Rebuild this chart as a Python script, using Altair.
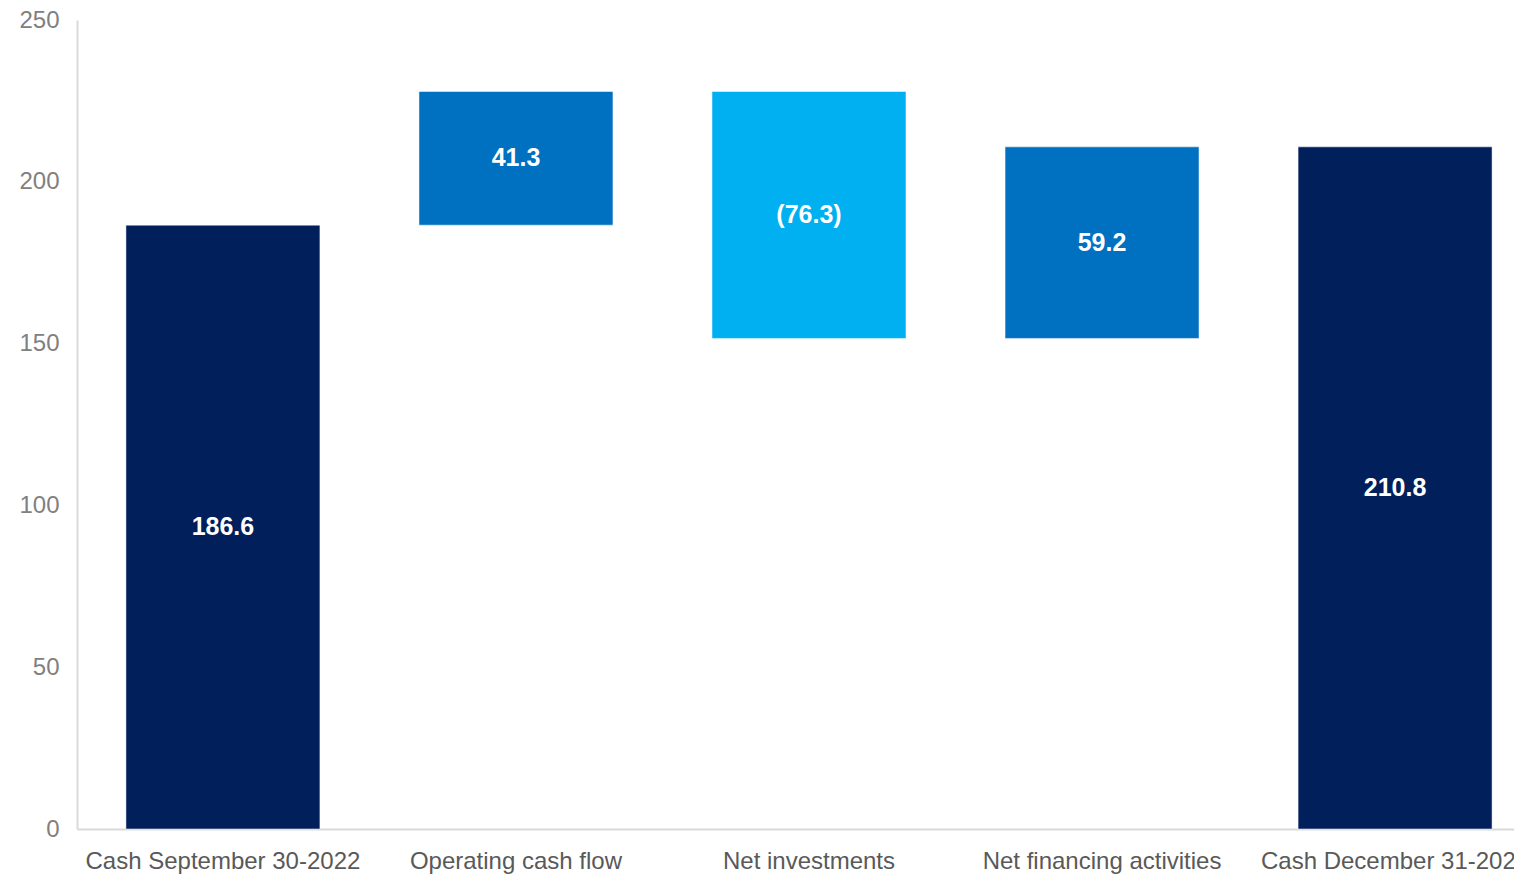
import altair as alt
import pandas as pd

categories = ["Cash September 30-2022", "Operating cash flow", "Net investments",
              "Net financing activities", "Cash December 31-2022"]
amounts = [186.6, 41.3, -76.3, 59.2, 210.8]
kinds = ["total", "delta", "delta", "delta", "total"]
labels = ["186.6", "41.3", "(76.3)", "59.2", "210.8"]
colors = ["#001F5B", "#0070C0", "#00B0F0", "#0070C0", "#001F5B"]

rows = []
running = 0.0
for cat, amt, kind, lab, col in zip(categories, amounts, kinds, labels, colors):
    if kind == "total":
        start, end = 0.0, amt
        running = amt
    else:
        start, end = running, running + amt
        running = end
    rows.append({"cat": cat, "start": start, "end": end,
                 "mid": (start + end) / 2, "label": lab, "color": col})
df = pd.DataFrame(rows)

FONT = "Liberation Sans"

x = alt.X("cat:N", sort=categories, title=None,
          scale=alt.Scale(paddingInner=0.338, paddingOuter=0.167, range=[0, 1464]),
          axis=alt.Axis(labelAngle=0, labelFontSize=24, labelColor="#595959",
                        labelFont=FONT, labelPadding=20, labelLimit=0, ticks=False,
                        domainColor="#D9D9D9", domainWidth=2))

bars = alt.Chart(df).mark_bar(stroke="#FFFFFF", strokeWidth=0.5).encode(
    x=x,
    y=alt.Y("start:Q", title=None,
            scale=alt.Scale(domain=[0, 250], nice=False),
            axis=alt.Axis(values=[0, 50, 100, 150, 200, 250], labelFontSize=24,
                          labelColor="#808080", labelFont=FONT, labelPadding=18,
                          ticks=False, grid=False, domainColor="#D9D9D9",
                          domainWidth=2)),
    y2="end:Q",
    color=alt.Color("color:N", scale=None),
)

text = alt.Chart(df).mark_text(color="white", fontSize=25, fontWeight="bold",
                               font=FONT).encode(
    x=alt.X("cat:N", sort=categories),
    y=alt.Y("mid:Q"),
    text="label:N",
)

chart = (bars + text).properties(
    width=1437, height=809,
    autosize=alt.AutoSizeParams(type="none"),
    padding={"left": 69, "top": 12, "right": 0, "bottom": 45},
    background="white",
).configure_view(stroke=None)

chart.save("out.html", embed_options={"renderer": "svg", "actions": False})
